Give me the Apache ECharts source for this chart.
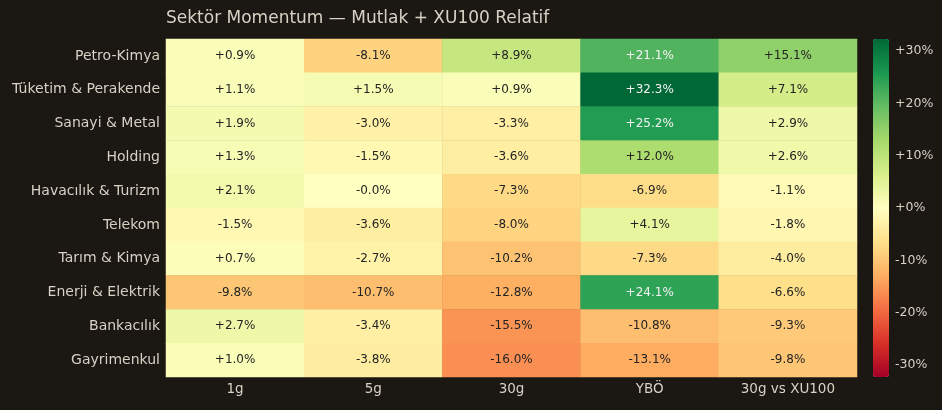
<!DOCTYPE html>
<html>
<head>
    <meta charset="utf-8">
    <script type="text/javascript" src="https://cdn.jsdelivr.net/npm/echarts@6/dist/echarts.min.js"></script>
    <title>Sektör Momentum</title>
    <style>
        html, body { margin: 0; padding: 0; background: #1b1713; }
        #main { width: 942px; height: 410px; }
    </style>
</head>
<body>
<div id="main"></div>
<script type="text/javascript">
    // kolonlar ve sektörler
    var columns = ['1g', '5g', '30g', 'YBÖ', '30g vs XU100'];
    var sectors = ['Petro-Kimya', 'Tüketim & Perakende', 'Sanayi & Metal', 'Holding', 'Havacılık & Turizm',
        'Telekom', 'Tarım & Kimya', 'Enerji & Elektrik', 'Bankacılık', 'Gayrimenkul'];

    // her satır: 1g, 5g, 30g, YBÖ, 30g vs XU100 (%)
    var petroKimya = [0.9, -8.1, 8.9, 21.1, 15.1];
    var tuketim = [1.1, 1.5, 0.9, 32.3, 7.1];
    var sanayi = [1.9, -3.0, -3.3, 25.2, 2.9];
    var holding = [1.3, -1.5, -3.6, 12.0, 2.6];
    var havacilik = [2.1, -0.04, -7.3, -6.9, -1.1];
    var telekom = [-1.5, -3.6, -8.0, 4.1, -1.8];
    var tarim = [0.7, -2.7, -10.2, -7.3, -4.0];
    var enerji = [-9.8, -10.7, -12.8, 24.1, -6.6];
    var bankacilik = [2.7, -3.4, -15.5, -10.8, -9.3];
    var gayrimenkul = [1.0, -3.8, -16.0, -13.1, -9.8];
    var rows = [petroKimya, tuketim, sanayi, holding, havacilik, telekom, tarim, enerji, bankacilik, gayrimenkul];

    var colorbarTicks = [-30, -20, -10, 0, 10, 20, 30];
    var vmax = 32.3;

    // RdYlGn
    var rdYlGn = ['#a50026', '#d73027', '#f46d43', '#fdae61', '#fee08b', '#ffffbf',
        '#d9ef8b', '#a6d96a', '#66bd63', '#1a9850', '#006837'];

    var textColor = '#d8d1c5';

    // koyu hücrelerde açık yazı
    var data = [];
    for (var i = 0; i < rows.length; i++) {
        for (var j = 0; j < columns.length; j++) {
            var v = rows[i][j];
            data.push({
                value: [j, i, v],
                label: { color: Math.abs(v) > 0.6 * vmax ? '#f2f2f2' : '#242424' }
            });
        }
    }

    function pct(v) {
        return (v >= 0 ? '+' : '') + v.toFixed(1) + '%';
    }

    var myChart = echarts.init(document.getElementById('main'));
    var option = {
        backgroundColor: '#1b1713',
        animation: false,
        textStyle: { fontFamily: 'DejaVu Sans' },
        title: {
            text: 'Sektör Momentum — Mutlak + XU100 Relatif',
            left: 166,
            top: 10,
            padding: 0,
            textStyle: { color: textColor, fontSize: 17, fontWeight: 'normal', fontFamily: 'DejaVu Sans' }
        },
        grid: [
            { left: 166, right: 85, top: 39, bottom: 33 },
            { left: 873, top: 39, width: 16, height: 338 }
        ],
        xAxis: [{
            type: 'category',
            data: columns,
            gridIndex: 0,
            axisLine: { show: false },
            axisTick: { show: false },
            splitLine: { show: false },
            axisLabel: { color: textColor, fontSize: 13.5, margin: 5 }
        }, {
            type: 'value',
            gridIndex: 1,
            show: false
        }],
        yAxis: [{
            type: 'category',
            data: sectors,
            inverse: true,
            gridIndex: 0,
            axisLine: { show: false },
            axisTick: { show: false },
            splitLine: { show: false },
            axisLabel: { color: textColor, fontSize: 14, margin: 6 }
        }, {
            type: 'value',
            gridIndex: 1,
            position: 'right',
            min: -vmax,
            max: vmax,
            axisLine: { show: false },
            axisTick: { show: false },
            splitLine: { show: false },
            axisLabel: {
                color: textColor,
                fontSize: 12.5,
                margin: 6,
                customValues: colorbarTicks,
                formatter: function (v) { return (v >= 0 ? '+' : '') + v + '%'; }
            }
        }],
        visualMap: {
            type: 'continuous',
            min: -vmax,
            max: vmax,
            dimension: 2,
            seriesIndex: 0,
            calculable: false,
            left: 873,
            top: 39,
            itemWidth: 16,
            itemHeight: 338,
            padding: 0,
            text: null,
            showLabel: false,
            inRange: { color: rdYlGn }
        },
        series: [{
            type: 'heatmap',
            xAxisIndex: 0,
            yAxisIndex: 0,
            data: data,
            label: {
                show: true,
                fontSize: 12,
                formatter: function (p) { return pct(p.value[2]); }
            },
            itemStyle: { borderWidth: 0 }
        }]
    };
    myChart.setOption(option);
</script>
</body>
</html>
